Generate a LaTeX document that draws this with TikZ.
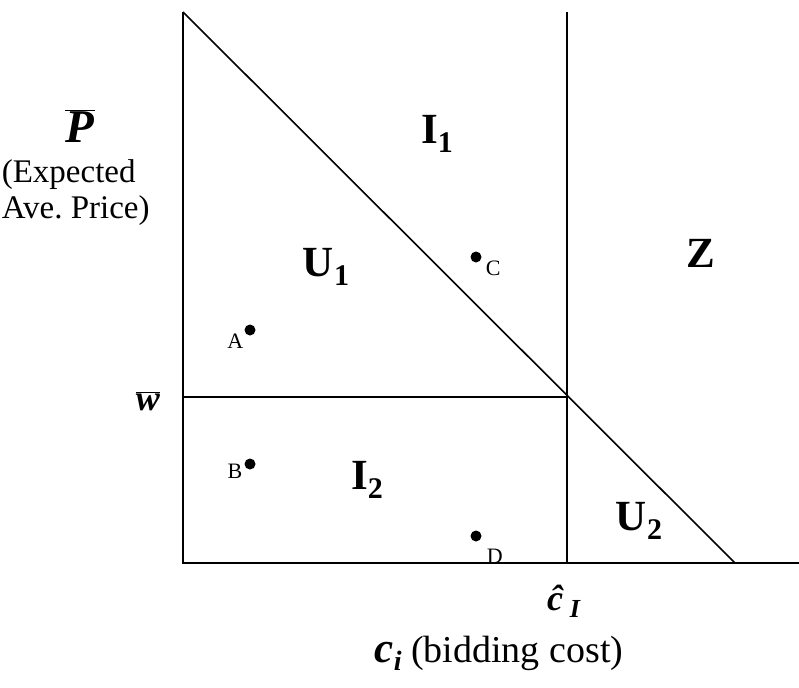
\documentclass[tikz,border=0pt]{standalone}
\usepackage{fontspec}
\setmainfont{Liberation Serif}
\usetikzlibrary{positioning}

\newcommand{\lowsub}[2]{\raisebox{-0.22em}{\fontsize{#1}{#1}\selectfont #2}}
\newcommand{\bfit}[1]{\textbf{\textit{#1}}}

\begin{document}
\begin{tikzpicture}[
  x=1pt, y=-1pt,
  region/.style={font=\fontsize{43}{43}\selectfont\bfseries, inner sep=0pt},
  axlabel/.style={font=\fontsize{38}{38}\selectfont, inner sep=0pt},
  dot/.style={circle, fill, inner sep=0pt, minimum size=11pt},
  dotlabel/.style={font=\fontsize{22}{22}\selectfont, inner sep=0pt},
  line width=1.6pt
]
\useasboundingbox (0,0) rectangle (799,687);

% corners of the diagram
\coordinate (top) at (183,12);
\coordinate (origin) at (183,563);
\coordinate (xend) at (799,563);
\coordinate (diagend) at (735,563);
\coordinate (vtop) at (567,12);
\coordinate (vbot) at (567,563);
\coordinate (wleft) at (183,397);
\coordinate (kink) at (567,397);

\draw (top) -- (origin) -- (xend);
\draw (top) -- (diagend);
\draw (vtop) -- (vbot);
\draw (wleft) -- (kink);

% axis labels
\node[inner sep=0pt, font=\fontsize{47}{47}\selectfont] (pbar) at (80,126)
  {$\overline{\hbox{\bfit{P}}}$};
\node[axlabel, font=\fontsize{33}{36}\selectfont, align=left, anchor=north west]
  (ylabel) at (1,159) {(Expected\\Ave.\ Price)};
\node[inner sep=0pt, font=\fontsize{36}{36}\selectfont] (wbar) at (148,401)
  {$\overline{\hbox{\bfit{w}}}$};
\node[inner sep=0pt, font=\fontsize{36}{36}\selectfont, anchor=base] (chat) at (564,610)
  {\bfit{ĉ}\,\lowsub{26}{\bfit{I}}};
\node[axlabel, anchor=base west] (xlabel) at (374,662)
  {{\fontsize{43}{43}\selectfont\bfit{c}}\lowsub{28}{\bfit{i}} (bidding cost)};

% regions
\node[region] (i1) at (437,134) {I\lowsub{30}{1}};
\node[region] (u1) at (326,267) {U\lowsub{30}{1}};
\node[region] (z) at (701,253) {Z};
\node[region] (i2) at (367,480) {I\lowsub{30}{2}};
\node[region] (u2) at (639,521) {U\lowsub{30}{2}};

% points
\node[dot] (a) at (250,330) {};
\node[dotlabel, anchor=base east] (alabel) at (244,348) {A};
\node[dot] (b) at (250,464) {};
\node[dotlabel, anchor=base east] (blabel) at (243,478) {B};
\node[dot] (c) at (476,257) {};
\node[dotlabel, anchor=base west] (clabel) at (485,275) {C};
\node[dot] (d) at (476,536) {};
\node[dotlabel, anchor=base west] (dlabel) at (486,563) {D};

\end{tikzpicture}
\end{document}
